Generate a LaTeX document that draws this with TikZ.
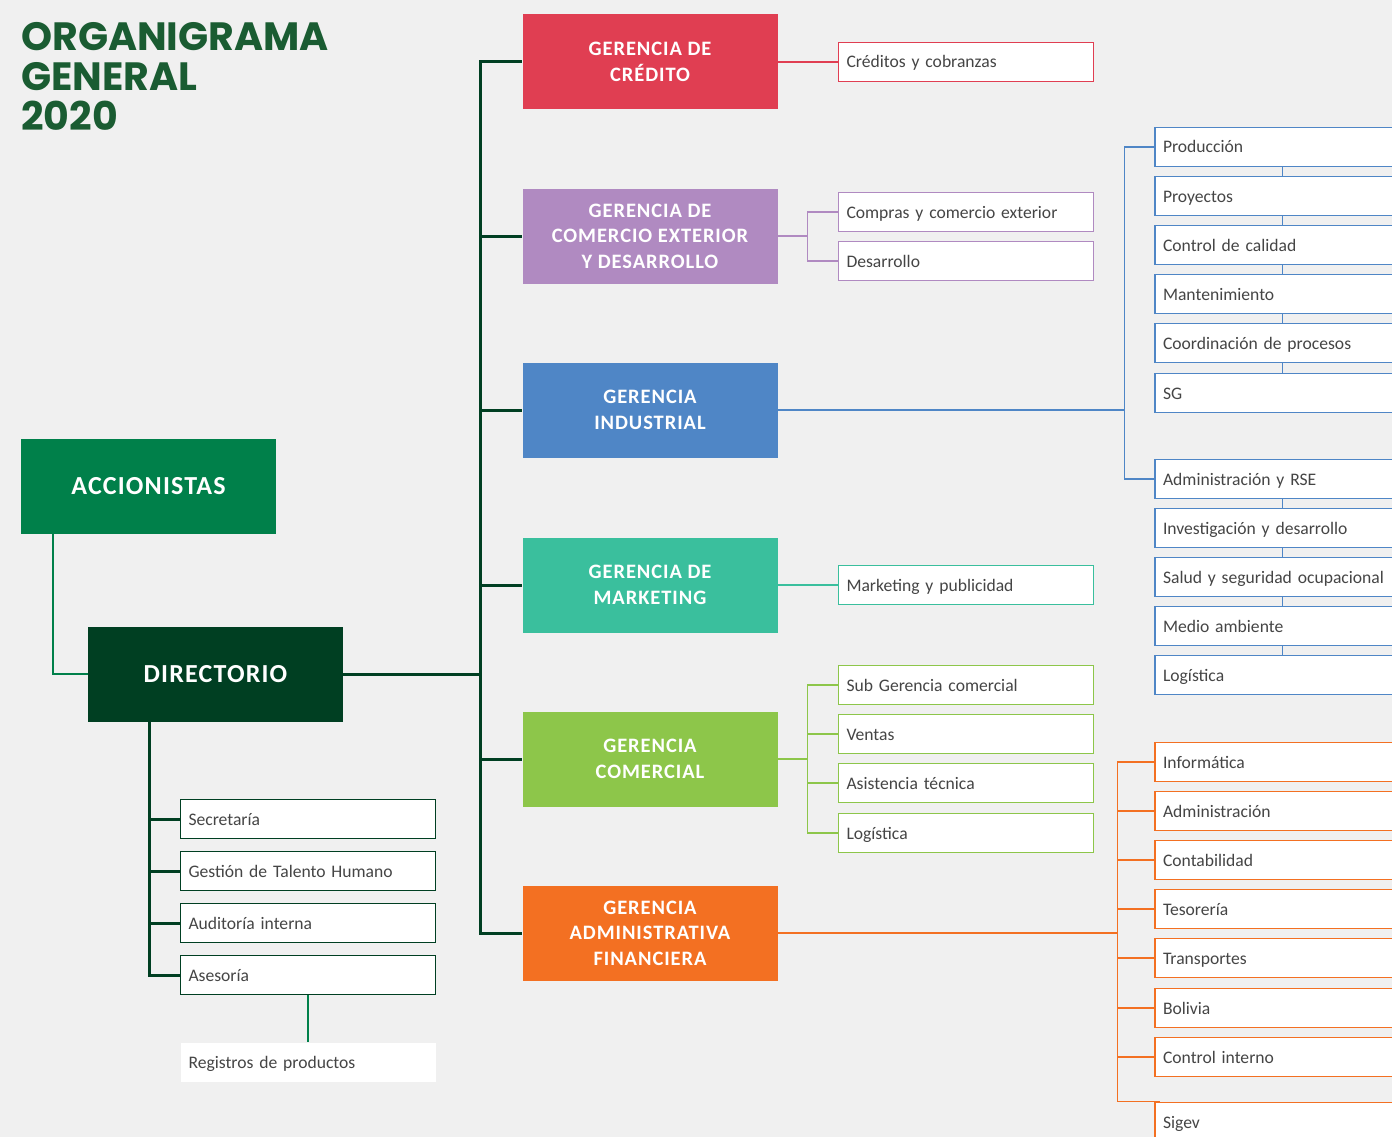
\documentclass[tikz,border=0pt]{standalone}
\usepackage{fontspec}
\setmainfont{Carlito}
\newfontfamily\titlefont{Poppins}
\newfontfamily\headfont{Carlito}[LetterSpace=4.5]
\usetikzlibrary{positioning}
\newcommand\unitfont{\fontsize{17.6}{20}\selectfont}

\definecolor{fondo}{HTML}{F0F0F0}
\definecolor{verdetitulo}{HTML}{1A5C32}
\definecolor{verdeacc}{HTML}{00804A}
\definecolor{verdedir}{HTML}{003F22}
\definecolor{rojocred}{HTML}{E03E52}
\definecolor{moradocomex}{HTML}{B08AC1}
\definecolor{azulind}{HTML}{4F86C6}
\definecolor{verdemkt}{HTML}{3ABF9D}
\definecolor{verdecom}{HTML}{8DC64A}
\definecolor{naranjaadm}{HTML}{F37022}
\definecolor{grisletra}{HTML}{454545}

\tikzset{
  gerbox/.style={rectangle,fill=#1,minimum width=255pt,minimum height=95pt,
    inner sep=0pt,align=center,text=white,font=\headfont\bfseries\fontsize{20.5}{25.5}\selectfont},
  unitbox/.style={rectangle,draw=#1,fill=white,line width=1.4pt,minimum height=39pt,
    text width=239pt,inner xsep=8pt,inner ysep=0pt,align=left,text=grisletra,
    text height=14pt,text depth=2pt,font=\unitfont},
  topbox/.style={gerbox=#1,font=\headfont\bfseries\fontsize{26}{28}\selectfont},
  link/.style={draw=#1,line width=1.3pt},
  trunk/.style={draw=verdedir,line width=3pt}
}

\begin{document}
\begin{tikzpicture}[x=1pt,y=-1pt]
  \useasboundingbox (0,0) rectangle (1392,1137);
  \fill[fondo] (0,0) rectangle (1392,1137);
  \clip (0,0) rectangle (1392,1137);

  \node[anchor=north west,align=left,inner sep=0pt,text=verdetitulo,
    font=\titlefont\bfseries\fontsize{39.5}{40}\selectfont] (titulo) at (21,22)
    {ORGANIGRAMA\\GENERAL\\2020};

  % accionistas y directorio
  \node[topbox=verdeacc] (acc) at (148.5,486) {ACCIONISTAS};
  \node[topbox=verdedir] (dir) at (215.5,674) {DIRECTORIO};
  \draw[link=verdeacc,line width=2.4pt] ([xshift=32pt]acc.south west) |- (dir.west);

  \begin{scope}[every node/.style={unitbox=verdedir}]
    \node (secre) at (308,819) {Secretaría};
    \node (talento) at (308,871) {Gestión de Talento Humano};
    \node (audit) at (308,923) {Auditoría interna};
    \node (ases) at (308,975) {Asesoría};
    \node[draw=none] (regis) at (308,1062) {Registros de productos};
  \end{scope}
  \foreach \u in {secre,talento,audit,ases}
    \draw[trunk] ([xshift=62pt]dir.south west) |- (\u.west);
  \draw[link=verdeacc] (ases.south) -- (regis.north);

  % gerencias
  \node[gerbox=rojocred] (gcred) at (650,62) {GERENCIA DE\\CRÉDITO};
  \node[gerbox=moradocomex] (gcomex) at (650,236) {GERENCIA DE\\COMERCIO EXTERIOR\\Y DESARROLLO};
  \node[gerbox=azulind] (gind) at (650,410) {GERENCIA\\INDUSTRIAL};
  \node[gerbox=verdemkt] (gmkt) at (650,585) {GERENCIA DE\\MARKETING};
  \node[gerbox=verdecom] (gcom) at (650,759) {GERENCIA\\COMERCIAL};
  \node[gerbox=naranjaadm] (gadm) at (650,933) {GERENCIA\\ADMINISTRATIVA\\FINANCIERA};

  \coordinate (tronco) at (480,674);
  \draw[trunk] (dir.east) -- (tronco);
  \foreach \g in {gcred,gcomex,gind,gmkt,gcom,gadm}
    \draw[trunk] (tronco) |- (\g.west);

  % areas de cada gerencia
  \node[unitbox=rojocred] (cobranzas) at (966,62) {Créditos y cobranzas};
  \draw[link=rojocred] (gcred.east) -- (cobranzas.west);

  \node[unitbox=moradocomex] (compras) at (966,212) {Compras y comercio exterior};
  \node[unitbox=moradocomex] (desarr) at (966,261) {Desarrollo};
  \coordinate (hubcomex) at ([xshift=30pt]gcomex.east);
  \draw[link=moradocomex] (gcomex.east) -- (hubcomex);
  \foreach \u in {compras,desarr}
    \draw[link=moradocomex] (hubcomex) |- (\u.west);

  \node[unitbox=verdemkt] (publi) at (966,585) {Marketing y publicidad};
  \draw[link=verdemkt] (gmkt.east) -- (publi.west);

  \foreach \n/\t/\y in {subcom/Sub Gerencia comercial/685,ventas/Ventas/734,
      asist/Asistencia técnica/783,logcom/Logística/833}
    \node[unitbox=verdecom] (\n) at (966,\y) {\t};
  \coordinate (hubcom) at ([xshift=30pt]gcom.east);
  \draw[link=verdecom] (gcom.east) -- (hubcom);
  \foreach \u in {subcom,ventas,asist,logcom}
    \draw[link=verdecom] (hubcom) |- (\u.west);

  % industrial
  \foreach \n/\t/\y in {prod/Producción/147,proy/Proyectos/196,calid/Control de calidad/245,
      mant/Mantenimiento/294,coord/Coordinación de procesos/343,sg/SG/393,
      rse/Administración y RSE/479,invest/Investigación y desarrollo/528,
      salud/Salud y seguridad ocupacional/577,medio/Medio ambiente/626,logind/Logística/675}
    \node[unitbox=azulind] (\n) at (1282.5,\y) {\t};
  \foreach \a/\b in {prod/proy,proy/calid,calid/mant,mant/coord,coord/sg,
      rse/invest,invest/salud,salud/medio,medio/logind}
    \draw[link=azulind] (\a.south) -- (\b.north);
  \coordinate (hubind) at ([xshift=347pt]gind.east);
  \draw[link=azulind] (gind.east) -- (hubind);
  \foreach \u in {prod,rse}
    \draw[link=azulind] (hubind) |- (\u.west);

  % administrativa financiera
  \foreach \n/\t/\y in {inform/Informática/762,admin/Administración/811,conta/Contabilidad/860,
      teso/Tesorería/909,transp/Transportes/958,boli/Bolivia/1008,
      control/Control interno/1057,sigev/Sigev/1122}
    \node[unitbox=naranjaadm] (\n) at (1282.5,\y) {\t};
  \coordinate (hubadm) at ([xshift=340pt]gadm.east);
  \draw[link=naranjaadm] (gadm.east) -- (hubadm);
  \foreach \u in {inform,admin,conta,teso,transp,boli,control}
    \draw[link=naranjaadm] (hubadm) |- (\u.west);
  \draw[link=naranjaadm] (hubadm) |- ([xshift=6pt]sigev.north west);
\end{tikzpicture}
\end{document}
